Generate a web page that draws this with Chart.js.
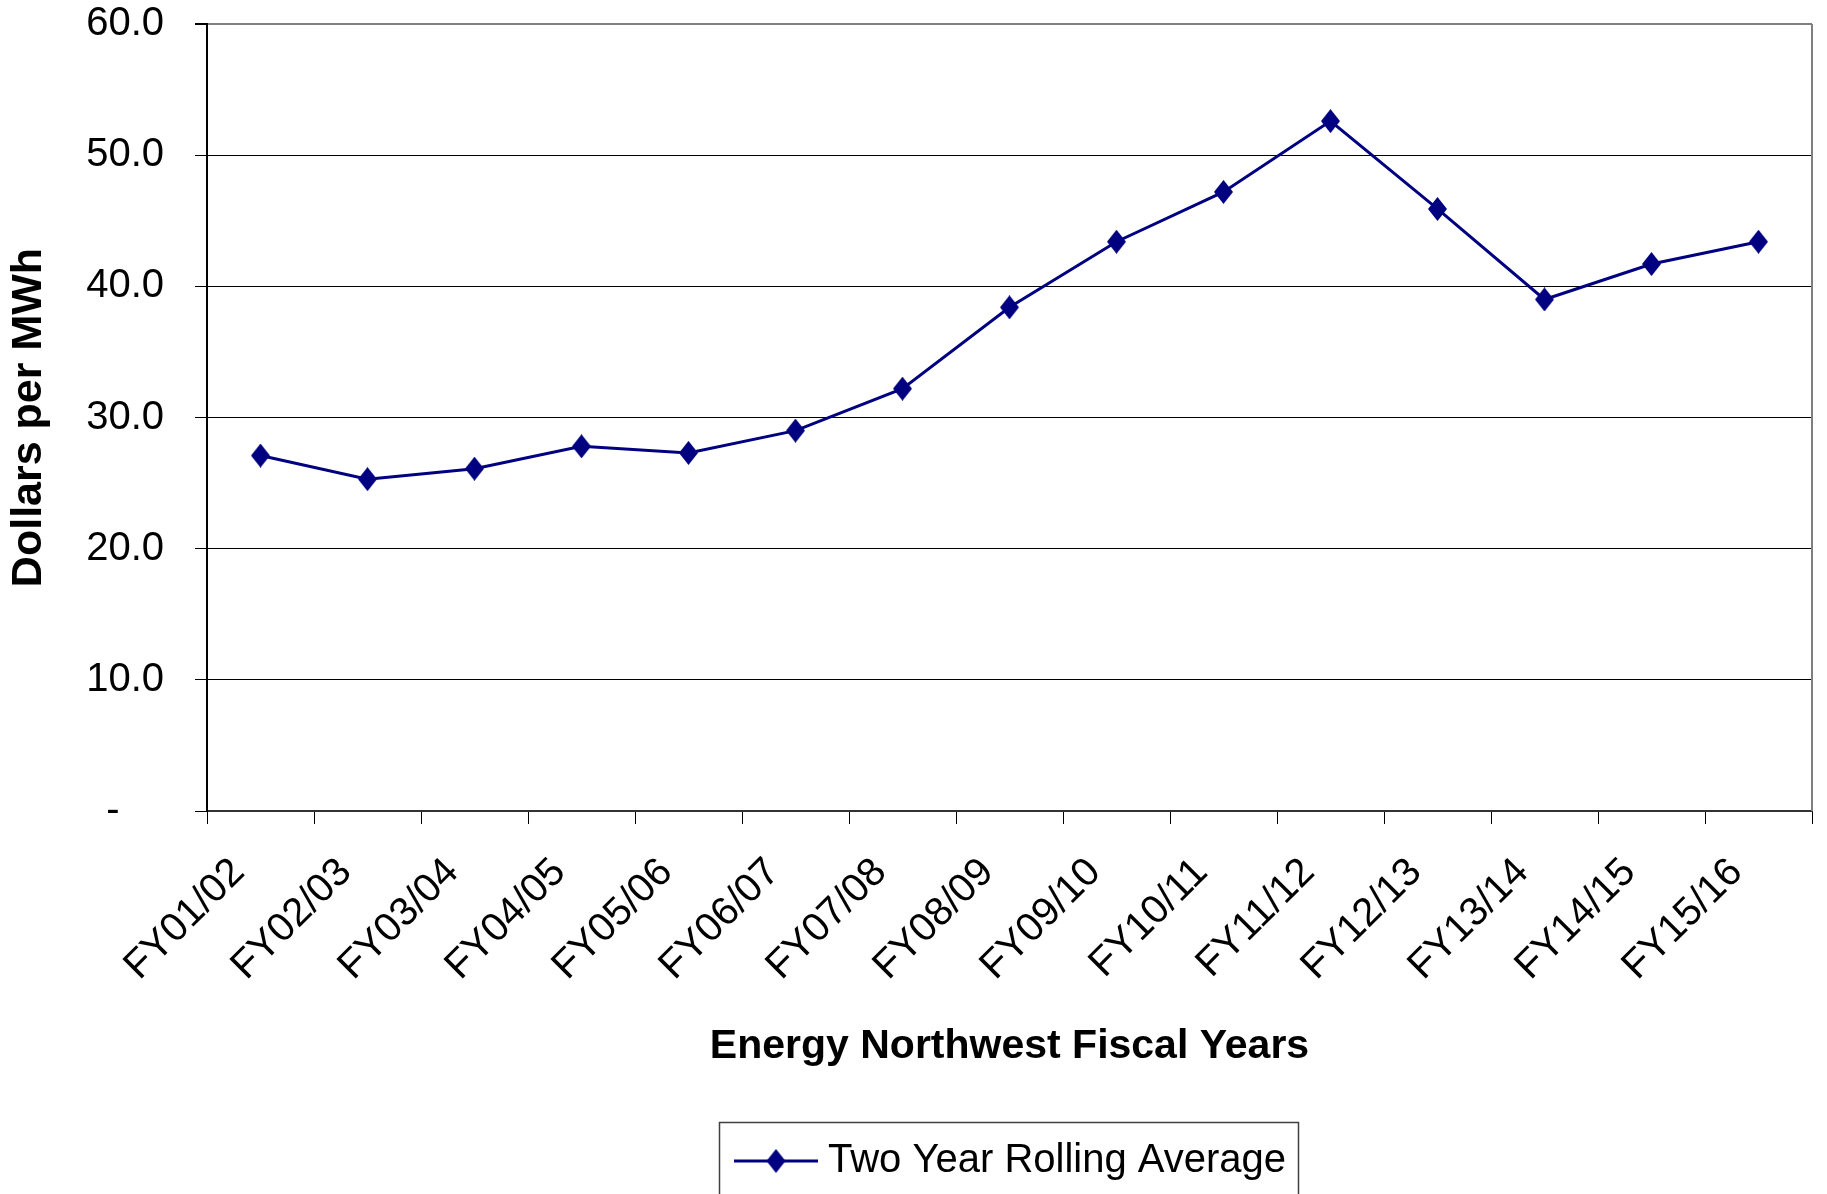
<!DOCTYPE html>
<html>
<head>
<meta charset="utf-8">
<title>Two Year Rolling Average</title>
<script src="https://cdn.jsdelivr.net/npm/chart.js@4.4.1/dist/chart.umd.min.js"></script>
<style>
    html, body { margin: 0; padding: 0; background: #fff; }
    #wrap { width: 1827px; height: 1194px; }
</style>
</head>
<body>
<div id="wrap"><canvas id="costChart" width="1827" height="1194"></canvas></div>
<script>
const fiscalYears = ["FY01/02", "FY02/03", "FY03/04", "FY04/05", "FY05/06", "FY06/07", "FY07/08",
    "FY08/09", "FY09/10", "FY10/11", "FY11/12", "FY12/13", "FY13/14", "FY14/15", "FY15/16"];
const rollingAverage = [27.1, 25.3, 26.1, 27.8, 27.3, 29.0, 32.2, 38.4, 43.4, 47.2, 52.6, 45.9, 39.0, 41.7, 43.4];
const yTickValues = [0, 10, 20, 30, 40, 50, 60];
const yTickLabels = ["-    ", "10.0", "20.0", "30.0", "40.0", "50.0", "60.0"];
const seriesName = "Two Year Rolling Average";

const NAVY = "#000080";
const SANS = '"Liberation Sans", Arial, sans-serif';

// Excel style diamond, a bit taller than wide
function diamond(w, h) {
    const c = document.createElement("canvas");
    c.width = w;
    c.height = h;
    const g = c.getContext("2d");
    g.fillStyle = NAVY;
    g.beginPath();
    g.moveTo(w / 2, 0);
    g.lineTo(w, h / 2);
    g.lineTo(w / 2, h);
    g.lineTo(0, h / 2);
    g.closePath();
    g.fill();
    return c;
}
const marker = diamond(19, 24);

// white page, gray plot-area edge on the right
const frame = {
    id: "frame",
    beforeDraw(chart) {
        const ctx = chart.ctx;
        ctx.save();
        ctx.fillStyle = "#fff";
        ctx.fillRect(0, 0, chart.width, chart.height);
        ctx.restore();
    },
    beforeDatasetsDraw(chart) {
        const { ctx, chartArea } = chart;
        ctx.save();
        ctx.strokeStyle = "#808080";
        ctx.lineWidth = 2;
        ctx.beginPath();
        ctx.moveTo(chartArea.right, chartArea.top);
        ctx.lineTo(chartArea.right, chartArea.bottom);
        ctx.stroke();
        ctx.restore();
    }
};

// boxed legend below the axis title, cut by the bottom edge like the original
const boxLegend = {
    id: "boxLegend",
    afterDraw(chart) {
        const ctx = chart.ctx;
        const ds = chart.data.datasets[0];
        const top = 1122, left = 719, right = 1298, cy = 1161;
        ctx.save();
        ctx.strokeStyle = "#404040";
        ctx.lineWidth = 1.5;
        ctx.strokeRect(left + 0.5, top + 0.5, right - left, 120);
        ctx.strokeStyle = ds.borderColor;
        ctx.lineWidth = 3;
        ctx.beginPath();
        ctx.moveTo(734, cy);
        ctx.lineTo(818, cy);
        ctx.stroke();
        ctx.drawImage(marker, 776 - marker.width / 2, cy - marker.height / 2);
        ctx.fillStyle = "#000";
        ctx.font = "40px " + SANS;
        ctx.textBaseline = "middle";
        ctx.textAlign = "left";
        ctx.fillText(ds.label, 828, cy);
        ctx.restore();
    }
};

const ctx = document.getElementById("costChart").getContext("2d");
new Chart(ctx, {
    type: "line",
    data: {
        labels: fiscalYears,
        datasets: [{
            label: seriesName,
            data: rollingAverage,
            borderColor: NAVY,
            backgroundColor: NAVY,
            borderWidth: 3,
            tension: 0,
            pointStyle: marker,
            pointRadius: 12,
            pointHoverRadius: 12
        }]
    },
    options: {
        responsive: false,
        devicePixelRatio: 1,
        animation: false,
        layout: { padding: { top: 24, right: 10, bottom: 123, left: 0 } },
        plugins: {
            legend: { display: false },
            tooltip: { enabled: false }
        },
        scales: {
            x: {
                offset: true,
                afterFit: (scale) => {
                    scale.height = 260;
                    scale.paddingLeft = 0;
                    scale.paddingRight = 0;
                },
                grid: {
                    offset: true,
                    drawOnChartArea: false,
                    drawTicks: true,
                    tickLength: 13,
                    tickColor: "#000",
                    lineWidth: 1
                },
                border: { color: "#333", width: 2 },
                ticks: {
                    color: "#000",
                    font: { family: SANS, size: 40 },
                    minRotation: 45,
                    maxRotation: 45,
                    autoSkip: false,
                    padding: 25,
                    labelOffset: -22
                },
                title: {
                    display: true,
                    text: "Energy Northwest Fiscal Years",
                    color: "#000",
                    font: { family: SANS, size: 41, weight: "bold" },
                    padding: { top: 0, bottom: 0 }
                }
            },
            y: {
                min: 0,
                max: 60,
                afterBuildTicks: (scale) => { scale.ticks = yTickValues.map(v => ({ value: v })); },
                afterFit: (scale) => {
                    scale.width = 207;
                    scale.paddingTop = 20;
                    scale.paddingBottom = 20;
                },
                grid: {
                    color: (c) => (c.tick && c.tick.value === 60 ? "#808080" : "#000"),
                    lineWidth: (c) => (c.tick && c.tick.value === 60 ? 2 : 1),
                    drawTicks: true,
                    tickLength: 12,
                    tickColor: "#000"
                },
                border: { color: "#000", width: 2 },
                ticks: {
                    color: "#000",
                    font: { family: SANS, size: 40 },
                    padding: 31,
                    callback: (value) => yTickLabels[yTickValues.indexOf(value)]
                },
                title: {
                    display: true,
                    text: "Dollars per MWh",
                    color: "#000",
                    font: { family: SANS, size: 43, weight: "bold" },
                    padding: { top: 3, bottom: 0 }
                }
            }
        }
    },
    plugins: [frame, boxLegend]
});
</script>
</body>
</html>
